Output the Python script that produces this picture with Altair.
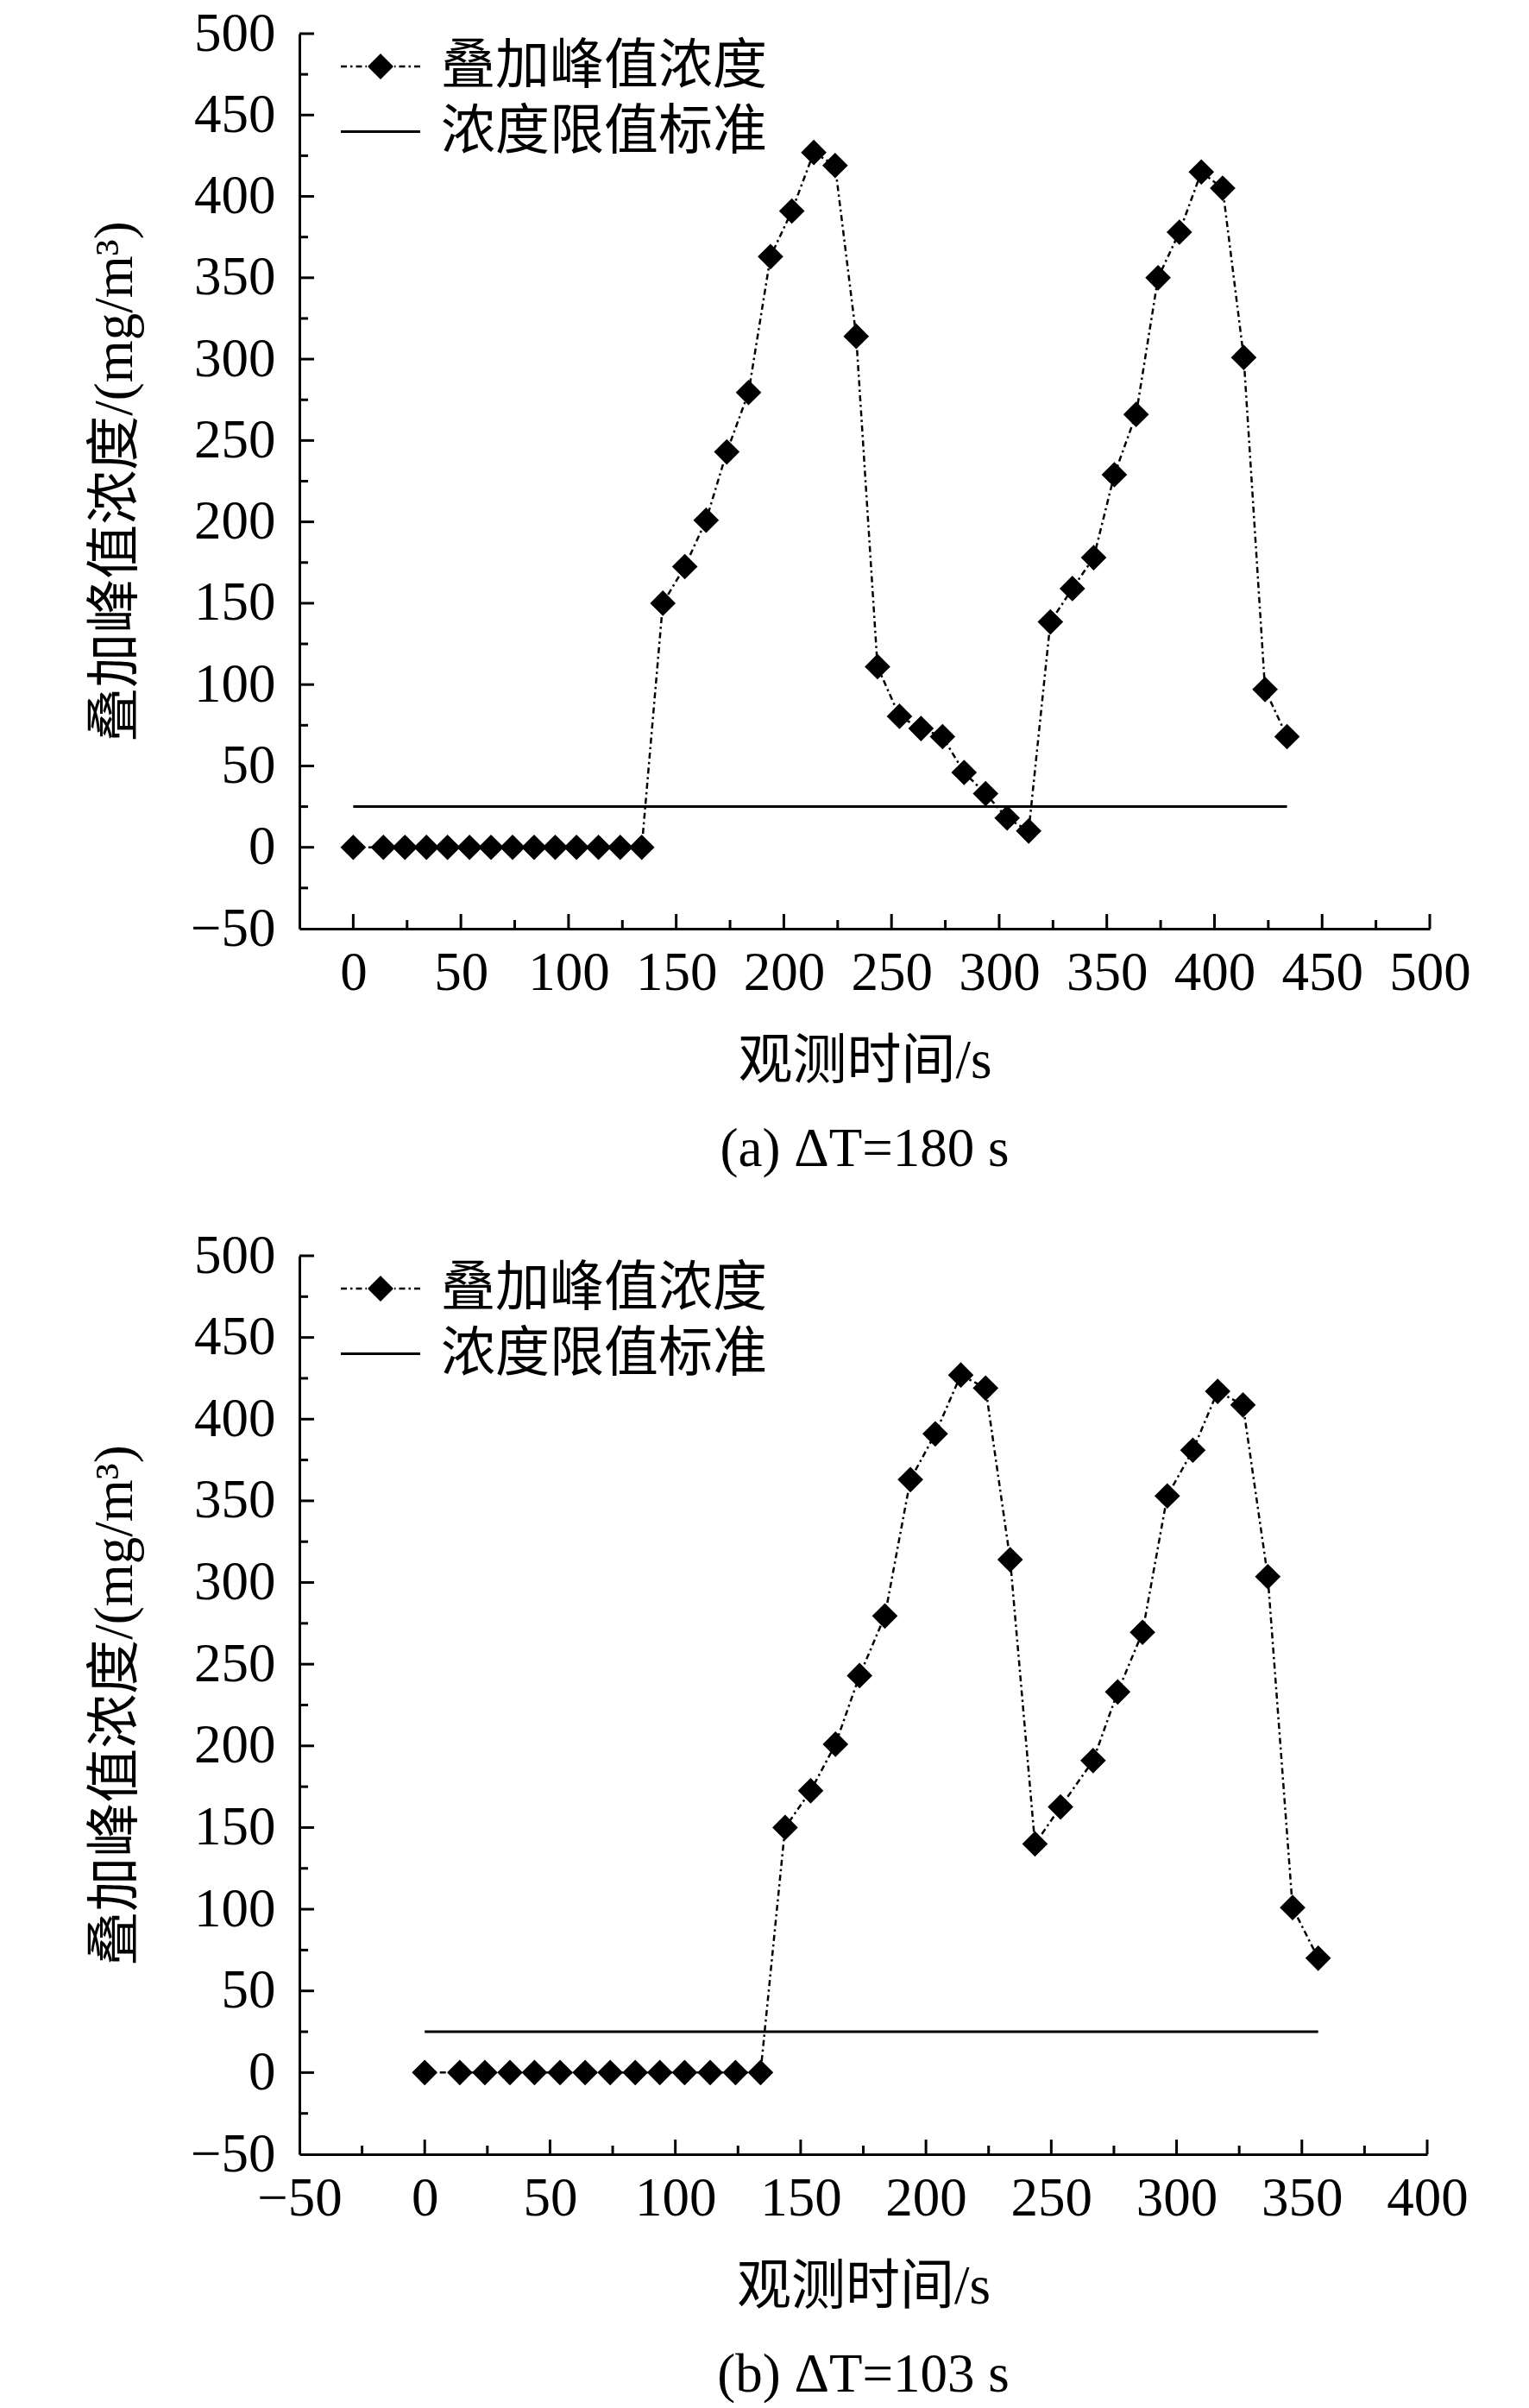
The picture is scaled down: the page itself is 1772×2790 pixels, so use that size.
import altair as alt
import pandas as pd

# ---------------- data ----------------
SERIES = ['叠加峰值浓度', '浓度限值标准']
LIMIT_VALUE = [25, 25]

# panel (a)  ΔT = 180 s
time_a = [0, 14, 24, 34, 43.8, 54, 64, 74, 84, 93.8, 103.7, 113.9, 124, 134,
          143.8, 154, 163.9, 173.5, 183.6, 193.8, 203.7, 213.9, 223.8, 233.6,
          243.5, 253.7, 263.7, 273.7, 283.7, 293.7, 303.7, 313.7,
          323.8, 334, 343.9, 353.5, 363.6, 373.8, 383.7, 393.9, 403.8, 413.6, 423.5, 433.7]
conc_a = [0, 0, 0, 0, 0, 0, 0, 0, 0, 0, 0, 0, 0, 0,
          150, 172.5, 201, 243, 279.5, 363, 391, 427, 419, 314,
          111, 80.5, 73, 68, 46, 33, 18, 10,
          138.5, 159, 178, 229, 266, 350, 378, 415, 405, 301, 97, 68]

# panel (b)  ΔT = 103 s
time_b = [0, 14, 24, 34, 43.8, 54, 64, 74, 84, 93.8, 103.7, 113.9, 124, 134,
          143.8, 154, 163.9, 173.5, 183.6, 193.8, 203.7, 213.9, 223.8, 233.6,
          243.5, 253.7, 266.7, 276.5, 286.4, 296.3, 306.5, 316.4, 326.5, 336.4, 346.3, 356.5]
conc_b = [0, 0, 0, 0, 0, 0, 0, 0, 0, 0, 0, 0, 0, 0,
          150, 172.5, 201, 243, 279.5, 363, 391, 427, 419, 314,
          140, 162.6, 191, 233, 269.5, 353, 381, 417, 408.7, 303.6, 101, 70]

# tick values
y_labels = [-50, 0, 50, 100, 150, 200, 250, 300, 350, 400, 450, 500]
y_major = [0, 50, 100, 150, 200, 250, 300, 350, 400, 450, 500]
y_minor = [-25, 25, 75, 125, 175, 225, 275, 325, 375, 425, 475]
x_labels_a = [0, 50, 100, 150, 200, 250, 300, 350, 400, 450, 500]
x_minor_a = [25, 75, 125, 175, 225, 275, 325, 375, 425, 475]
x_labels_b = [-50, 0, 50, 100, 150, 200, 250, 300, 350, 400]
x_major_b = [0, 50, 100, 150, 200, 250, 300, 350, 400]
x_minor_b = [-25, 25, 75, 125, 175, 225, 275, 325, 375]

CAPTION_A = '(a) ΔT=180 s'
CAPTION_B = '(b) ΔT=103 s'
X_TITLE = '观测时间/s'
Y_TITLE = '叠加峰值浓度/(mg/m³)'

# ---------------- style ----------------
FONT = "'Liberation Serif', 'Noto Sans CJK SC', serif"
FS = 63


def _rect(a, b, hh):
    return f"M{a:.4f},{-hh:.4f}L{b:.4f},{-hh:.4f}L{b:.4f},{hh:.4f}L{a:.4f},{hh:.4f}Z"


# legend symbols as custom paths (unit = sqrt(size)/2 px)
U = 15.0
HALF = 46.0
DIA = 15.0
pattern = [(7, True), (4, False), (2.5, True), (4, False)]
segs = []
pos, i = -HALF, 0
while pos < -DIA - 1:
    ln, on = pattern[i % 4]
    end = min(pos + ln, -DIA - 1)
    if on:
        segs.append((pos, end))
    pos += ln
    i += 1
segs_all = segs + [(-b, -a) for a, b in segs]
PATH_SERIES = "".join(_rect(a / U, b / U, 1.25 / U) for a, b in segs_all) + \
    f"M0,{-DIA / U:.4f}L{DIA / U:.4f},0L0,{DIA / U:.4f}L{-DIA / U:.4f},0Z"
PATH_LIMIT = _rect(-HALF / U, HALF / U, 1.5 / U)


def panel(times, conc, xdom, xlabels, xmajor, xminor, w, h, caption):
    df = pd.DataFrame({'t': times, 'c': conc})
    lim = pd.DataFrame({'t': [0, times[-1]], 'c': LIMIT_VALUE})
    xs = alt.Scale(domain=xdom, nice=False, zero=False)
    ys = alt.Scale(domain=[-50, 500], nice=False, zero=False)
    common = dict(grid=False, ticks=False, tickSize=0, domain=True, domainColor='black',
                  domainWidth=3, labelFont=FONT, labelFontSize=FS, labelColor='black',
                  labelFlush=False, labelOverlap=False, labelBound=False, format='d',
                  titleFont=FONT, titleFontSize=FS, titleFontWeight='normal', titleColor='black')
    xaxis = alt.Axis(values=xlabels, title=X_TITLE, labelPadding=20, titlePadding=39, **common)
    yaxis = alt.Axis(values=y_labels, title=Y_TITLE, labelPadding=28, titlePadding=55, **common)

    X = lambda f: alt.X(f, scale=xs, axis=xaxis)
    Y = lambda f: alt.Y(f, scale=ys, axis=yaxis)

    line = alt.Chart(df).mark_line(color='black', strokeWidth=2.5, strokeDash=[7, 4, 2.5, 4]).encode(
        x=X('t:Q'), y=Y('c:Q'), order='t:Q')
    pts = alt.Chart(df).mark_point(shape='diamond', filled=True, size=880, color='black', opacity=1).encode(
        x=X('t:Q'), y=Y('c:Q'))
    limline = alt.Chart(lim).mark_line(color='black', strokeWidth=3).encode(
        x=X('t:Q'), y=Y('c:Q'))

    def xt(vals, ln):
        return alt.Chart(pd.DataFrame({'t': vals})).mark_rule(color='black', strokeWidth=3).encode(
            x=X('t:Q'), y=alt.value(h), y2=alt.value(h - ln))

    def yt(vals, ln):
        return alt.Chart(pd.DataFrame({'c': vals})).mark_rule(color='black', strokeWidth=3).encode(
            y=Y('c:Q'), x=alt.value(0), x2=alt.value(ln))

    leg = alt.Chart(pd.DataFrame({'series': SERIES})).mark_point(filled=True, opacity=0, color='black').encode(
        shape=alt.Shape('series:N', scale=alt.Scale(domain=SERIES, range=[PATH_SERIES, PATH_LIMIT]),
                        legend=alt.Legend(orient='none', legendX=62.5, legendY=6.5, title=None,
                                          symbolSize=900, symbolFillColor='black', symbolStrokeWidth=0,
                                          symbolOpacity=1, labelFont=FONT, labelFontSize=FS,
                                          labelColor='black', labelOffset=38.5, labelLimit=0,
                                          rowPadding=11.5, padding=0)))

    return alt.layer(line, pts, limline, xt(xmajor, 17), xt(xminor, 10), yt(y_major, 17), yt(y_minor, 10),
                     leg).properties(
        width=w, height=h,
        title=alt.TitleParams(text=caption, orient='bottom', anchor='middle', frame='group',
                              font=FONT, fontSize=FS, fontWeight='normal', color='black',
                              baseline='top', offset=40))


top = panel(time_a, conc_a, [-25, 500], x_labels_a, x_labels_a, x_minor_a, 1310, 1037, CAPTION_A)
bottom = panel(time_b, conc_b, [-50, 400], x_labels_b, x_major_b, x_minor_b, 1307, 1041, CAPTION_B)

chart = alt.vconcat(top, bottom, spacing=60).properties(
    padding={'left': 94, 'top': 0, 'right': 0, 'bottom': 0},
    background='white'
).resolve_scale(shape='independent').resolve_legend(shape='independent').configure_view(stroke=None)

chart.save("out.html", embed_options={"renderer": "svg", "actions": False})
